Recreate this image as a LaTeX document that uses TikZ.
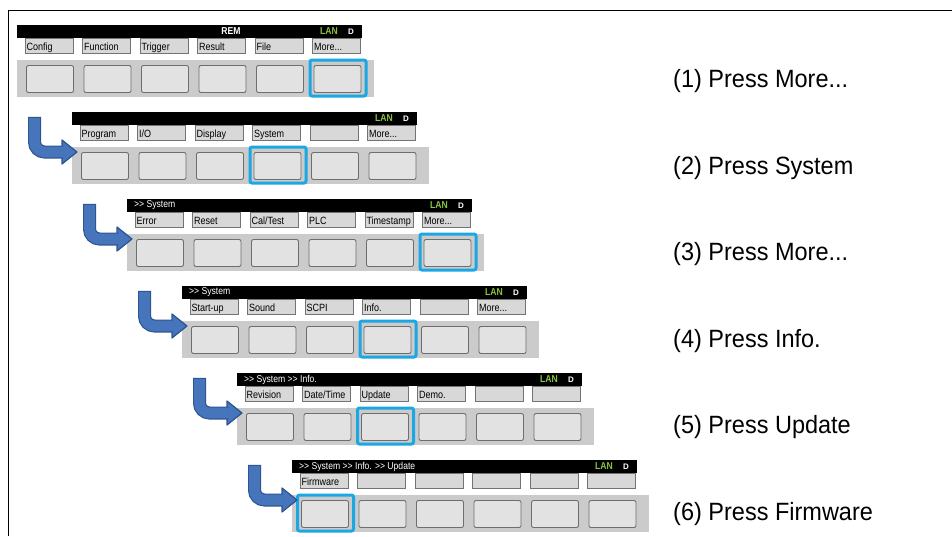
\documentclass[tikz,border=0pt]{standalone}
\usepackage{fontspec}
\usepackage{tikz}
\setmainfont{Liberation Sans}
\newfontfamily\panelfont[FakeStretch=0.86]{Liberation Sans}
\newfontfamily\stepfont[FakeStretch=0.94]{Liberation Sans}
\definecolor{mystripcolor}{HTML}{CBCBCB}
\definecolor{mykeycolor}{HTML}{E2E2E2}
\definecolor{mykeyedge}{HTML}{6E6E6E}
\definecolor{mylabelcolor}{HTML}{D8D8D8}
\definecolor{myhlcolor}{HTML}{1AA7E4}
\definecolor{mylancolor}{HTML}{8CC63E}
\definecolor{myarrowcolor}{HTML}{4775BC}
\definecolor{myarrowedge}{HTML}{2D5591}
\tikzset{
  topbar/.style={fill=black, rectangle, inner sep=0pt, minimum width=345pt, minimum height=13pt, anchor=north west},
  bartext/.style={text=white, inner sep=0pt, anchor=west, font=\panelfont\fontsize{10pt}{10pt}\selectfont},
  lantext/.style={text=mylancolor, inner sep=0pt, font=\panelfont\bfseries\fontsize{10pt}{10pt}\selectfont},
  dtext/.style={text=white, inner sep=0pt, font=\bfseries\fontsize{8pt}{8pt}\selectfont},
  softlabel/.style={draw=black!55, line width=0.8pt, fill=mylabelcolor, rectangle, inner ysep=0pt, inner xsep=1.5pt, text height=9pt, text depth=0pt, minimum height=15pt, font=\panelfont\fontsize{10.5pt}{10.5pt}\selectfont, execute at begin node={\hbox to 45pt\bgroup}, execute at end node={\hfil\egroup}},
  keystrip/.style={fill=mystripcolor, rectangle, inner sep=0pt, minimum width=357pt, minimum height=37pt, anchor=north west},
  keybtn/.style={draw=mykeyedge, fill=mykeycolor, line width=0.9pt, rounded corners=2pt, rectangle, inner sep=0pt, minimum width=47pt, minimum height=27pt},
  keyhl/.style={draw=myhlcolor, line width=3pt, rounded corners=2pt, rectangle, inner sep=0pt, minimum width=56pt, minimum height=36pt},
  arrowrim/.style={draw=myarrowedge, line width=13pt, rounded corners=10pt},
  arrowbody/.style={draw=myarrowcolor, line width=10.6pt, rounded corners=10pt},
  arrowtip/.style={fill=myarrowcolor, draw=myarrowedge, line width=1.2pt, line join=round},
  steplabel/.style={anchor=west, inner sep=0pt, font=\stepfont},
}

\begin{document}
\begin{tikzpicture}[x=1pt, y=-1pt]%
\useasboundingbox (0,0) rectangle (952,536);%
\draw[line width=1.4pt] (8.5,536) -- (8.5,10.5) -- (952,10.5);%
% panel 1
\begin{scope}[shift={(17,25)}]%
\node[keystrip] (strip1) at (0,35) {};%
\node[topbar] (bar1) at (0,0) {};%
\node[bartext, anchor=center, font=\panelfont\bfseries\fontsize{10pt}{10pt}\selectfont] (rem1) at (214,6.5) {REM};%
\node[lantext] (lan1) at (312,6.5) {LAN};%
\node[dtext] (d1) at (334,6.5) {D};%
\node[softlabel] (sk1a) at (32,20.5) {Config};%
\node[softlabel] (sk1b) at (89.5,20.5) {Function};%
\node[softlabel] (sk1c) at (147,20.5) {Trigger};%
\node[softlabel] (sk1d) at (204.5,20.5) {Result};%
\node[softlabel] (sk1e) at (262,20.5) {File};%
\node[softlabel] (sk1f) at (319.5,20.5) {More...};%
\node[keybtn] (btn1a) at (33,54) {};%
\node[keybtn] (btn1b) at (90.5,54) {};%
\node[keybtn] (btn1c) at (148,54) {};%
\node[keybtn] (btn1d) at (205.5,54) {};%
\node[keybtn] (btn1e) at (263,54) {};%
\node[keybtn] (btn1f) at (320.5,54) {};%
\node[keyhl] (hl1) at (321,53) {};%
\end{scope}
% panel 2
\begin{scope}[shift={(72,112)}]%
\node[keystrip] (strip2) at (0,35) {};%
\node[topbar] (bar2) at (0,0) {};%
\node[lantext] (lan2) at (312,6.5) {LAN};%
\node[dtext] (d2) at (334,6.5) {D};%
\node[softlabel] (sk2a) at (32,20.5) {Program};%
\node[softlabel] (sk2b) at (89.5,20.5) {I/O};%
\node[softlabel] (sk2c) at (147,20.5) {Display};%
\node[softlabel] (sk2d) at (204.5,20.5) {System};%
\node[softlabel] (sk2e) at (262,20.5) {};%
\node[softlabel] (sk2f) at (319.5,20.5) {More...};%
\node[keybtn] (btn2a) at (33,54) {};%
\node[keybtn] (btn2b) at (90.5,54) {};%
\node[keybtn] (btn2c) at (148,54) {};%
\node[keybtn] (btn2d) at (205.5,54) {};%
\node[keybtn] (btn2e) at (263,54) {};%
\node[keybtn] (btn2f) at (320.5,54) {};%
\node[keyhl] (hl2) at (206,53) {};%
\coordinate (a2top) at (-37.5,6);%
\coordinate (a2end) at (-10,40);%
\draw[arrowtip] (-10,28) -- (5,40) -- (-10,52) -- cycle;%
\draw[arrowrim] ([yshift=1.2pt]a2top) |- ([xshift=1pt]a2end);%
\draw[arrowbody] (a2top) |- ([xshift=1.5pt]a2end);%
\end{scope}
% panel 3
\begin{scope}[shift={(127,199)}]%
\node[keystrip] (strip3) at (0,35) {};%
\node[topbar] (bar3) at (0,0) {};%
\node[bartext] (hd3) at (7,6.5) {>> System};%
\node[lantext] (lan3) at (312,6.5) {LAN};%
\node[dtext] (d3) at (334,6.5) {D};%
\node[softlabel] (sk3a) at (32,20.5) {Error};%
\node[softlabel] (sk3b) at (89.5,20.5) {Reset};%
\node[softlabel] (sk3c) at (147,20.5) {Cal/Test};%
\node[softlabel] (sk3d) at (204.5,20.5) {PLC};%
\node[softlabel] (sk3e) at (262,20.5) {Timestamp};%
\node[softlabel] (sk3f) at (319.5,20.5) {More...};%
\node[keybtn] (btn3a) at (33,54) {};%
\node[keybtn] (btn3b) at (90.5,54) {};%
\node[keybtn] (btn3c) at (148,54) {};%
\node[keybtn] (btn3d) at (205.5,54) {};%
\node[keybtn] (btn3e) at (263,54) {};%
\node[keybtn] (btn3f) at (320.5,54) {};%
\node[keyhl] (hl3) at (321,53) {};%
\coordinate (a3top) at (-37.5,6);%
\coordinate (a3end) at (-10,40);%
\draw[arrowtip] (-10,28) -- (5,40) -- (-10,52) -- cycle;%
\draw[arrowrim] ([yshift=1.2pt]a3top) |- ([xshift=1pt]a3end);%
\draw[arrowbody] (a3top) |- ([xshift=1.5pt]a3end);%
\end{scope}
% panel 4
\begin{scope}[shift={(182,286)}]%
\node[keystrip] (strip4) at (0,35) {};%
\node[topbar] (bar4) at (0,0) {};%
\node[bartext] (hd4) at (7,6.5) {>> System};%
\node[lantext] (lan4) at (312,6.5) {LAN};%
\node[dtext] (d4) at (334,6.5) {D};%
\node[softlabel] (sk4a) at (32,20.5) {Start-up};%
\node[softlabel] (sk4b) at (89.5,20.5) {Sound};%
\node[softlabel] (sk4c) at (147,20.5) {SCPI};%
\node[softlabel] (sk4d) at (204.5,20.5) {Info.};%
\node[softlabel] (sk4e) at (262,20.5) {};%
\node[softlabel] (sk4f) at (319.5,20.5) {More...};%
\node[keybtn] (btn4a) at (33,54) {};%
\node[keybtn] (btn4b) at (90.5,54) {};%
\node[keybtn] (btn4c) at (148,54) {};%
\node[keybtn] (btn4d) at (205.5,54) {};%
\node[keybtn] (btn4e) at (263,54) {};%
\node[keybtn] (btn4f) at (320.5,54) {};%
\node[keyhl] (hl4) at (206,53) {};%
\coordinate (a4top) at (-37.5,6);%
\coordinate (a4end) at (-10,40);%
\draw[arrowtip] (-10,28) -- (5,40) -- (-10,52) -- cycle;%
\draw[arrowrim] ([yshift=1.2pt]a4top) |- ([xshift=1pt]a4end);%
\draw[arrowbody] (a4top) |- ([xshift=1.5pt]a4end);%
\end{scope}
% panel 5
\begin{scope}[shift={(237,373)}]%
\node[keystrip] (strip5) at (0,35) {};%
\node[topbar] (bar5) at (0,0) {};%
\node[bartext] (hd5) at (7,6.5) {>> System >> Info.};%
\node[lantext] (lan5) at (312,6.5) {LAN};%
\node[dtext] (d5) at (334,6.5) {D};%
\node[softlabel] (sk5a) at (32,20.5) {Revision};%
\node[softlabel] (sk5b) at (89.5,20.5) {Date/Time};%
\node[softlabel] (sk5c) at (147,20.5) {Update};%
\node[softlabel] (sk5d) at (204.5,20.5) {Demo.};%
\node[softlabel] (sk5e) at (262,20.5) {};%
\node[softlabel] (sk5f) at (319.5,20.5) {};%
\node[keybtn] (btn5a) at (33,54) {};%
\node[keybtn] (btn5b) at (90.5,54) {};%
\node[keybtn] (btn5c) at (148,54) {};%
\node[keybtn] (btn5d) at (205.5,54) {};%
\node[keybtn] (btn5e) at (263,54) {};%
\node[keybtn] (btn5f) at (320.5,54) {};%
\node[keyhl] (hl5) at (148.5,53) {};%
\coordinate (a5top) at (-37.5,6);%
\coordinate (a5end) at (-10,40);%
\draw[arrowtip] (-10,28) -- (5,40) -- (-10,52) -- cycle;%
\draw[arrowrim] ([yshift=1.2pt]a5top) |- ([xshift=1pt]a5end);%
\draw[arrowbody] (a5top) |- ([xshift=1.5pt]a5end);%
\end{scope}
% panel 6
\begin{scope}[shift={(292,460)}]%
\node[keystrip] (strip6) at (0,35) {};%
\node[topbar] (bar6) at (0,0) {};%
\node[bartext] (hd6) at (7,6.5) {>> System >> Info. >> Update};%
\node[lantext] (lan6) at (312,6.5) {LAN};%
\node[dtext] (d6) at (334,6.5) {D};%
\node[softlabel] (sk6a) at (32,20.5) {Firmware};%
\node[softlabel] (sk6b) at (89.5,20.5) {};%
\node[softlabel] (sk6c) at (147,20.5) {};%
\node[softlabel] (sk6d) at (204.5,20.5) {};%
\node[softlabel] (sk6e) at (262,20.5) {};%
\node[softlabel] (sk6f) at (319.5,20.5) {};%
\node[keybtn] (btn6a) at (33,54) {};%
\node[keybtn] (btn6b) at (90.5,54) {};%
\node[keybtn] (btn6c) at (148,54) {};%
\node[keybtn] (btn6d) at (205.5,54) {};%
\node[keybtn] (btn6e) at (263,54) {};%
\node[keybtn] (btn6f) at (320.5,54) {};%
\node[keyhl] (hl6) at (33.5,53) {};%
\coordinate (a6top) at (-37.5,6);%
\coordinate (a6end) at (-10,40);%
\draw[arrowtip] (-10,28) -- (5,40) -- (-10,52) -- cycle;%
\draw[arrowrim] ([yshift=1.2pt]a6top) |- ([xshift=1pt]a6end);%
\draw[arrowbody] (a6top) |- ([xshift=1.5pt]a6end);%
\end{scope}
% steps
\node[steplabel] (step1) at (673,81) {\fontsize{25pt}{25pt}\selectfont (1) Press More...};%
\node[steplabel] (step2) at (673,167.6) {\fontsize{25pt}{25pt}\selectfont (2) Press System};%
\node[steplabel] (step3) at (673,254.2) {\fontsize{25pt}{25pt}\selectfont (3) Press More...};%
\node[steplabel] (step4) at (673,340.8) {\fontsize{25pt}{25pt}\selectfont (4) Press Info.};%
\node[steplabel] (step5) at (673,427.4) {\fontsize{25pt}{25pt}\selectfont (5) Press Update};%
\node[steplabel] (step6) at (673,514) {\fontsize{25pt}{25pt}\selectfont (6) Press Firmware};%
\end{tikzpicture}
\end{document}
